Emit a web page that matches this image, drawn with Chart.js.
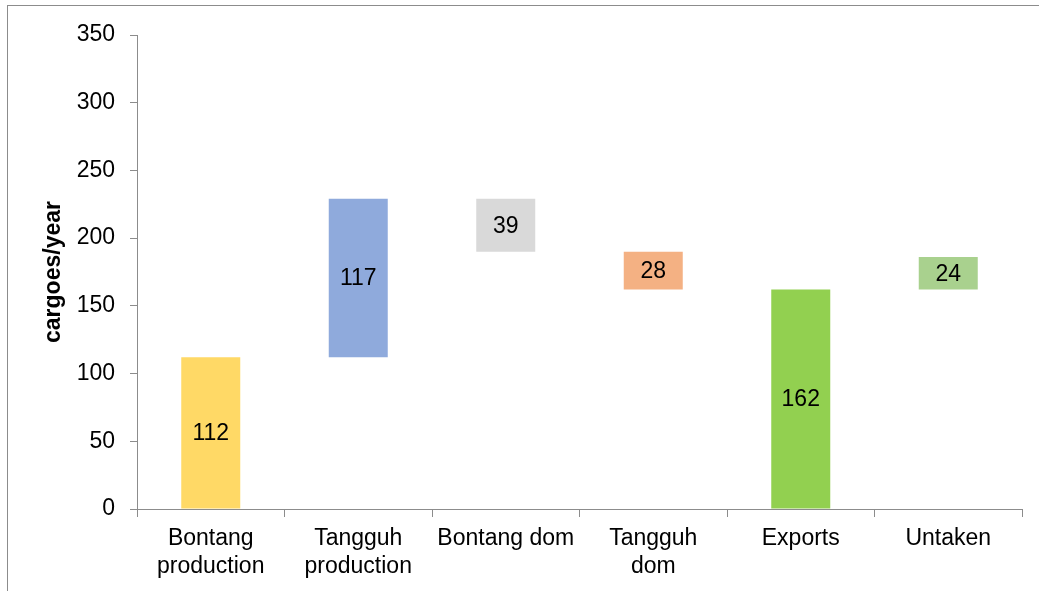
<!DOCTYPE html>
<html>
<head>
<meta charset="utf-8">
<script src="https://cdn.jsdelivr.net/npm/chart.js@4"></script>
<style>
  body { margin: 0; background: #fff; }
  #wrap { position: relative; width: 1039px; height: 591px; }
  #frame { position: absolute; left: 7px; top: 5px; right: 0; bottom: 0;
           border-top: 1px solid #8c8c8c; border-left: 1px solid #8c8c8c; }
  canvas { position: absolute; left: 0; top: 0; }
</style>
</head>
<body>
<div id="wrap">
  <div id="frame"></div>
  <canvas id="c" width="1039" height="591"></canvas>
</div>
<script>
// waterfall data
const categories = [
  ["Bontang", "production"],
  ["Tangguh", "production"],
  "Bontang dom",
  ["Tangguh", "dom"],
  "Exports",
  "Untaken"
];
const values = [112, 117, 39, 28, 162, 24];
const bases = [0, 112, 190, 162, 0, 162];
const barColors = ["#FFD966", "#8FAADC", "#D9D9D9", "#F4B183", "#92D050", "#A9D18E"];

const axisColor = "#8c8c8c";
const fontFamily = "'Liberation Sans', Arial, sans-serif";

// labels in the middle of each bar
const barLabels = {
  id: "barLabels",
  afterDatasetsDraw(chart) {
    const ctx = chart.ctx;
    const meta = chart.getDatasetMeta(0);
    ctx.save();
    ctx.fillStyle = "#000";
    ctx.font = "23px " + fontFamily;
    ctx.textAlign = "center";
    ctx.textBaseline = "middle";
    meta.data.forEach((bar, i) => {
      ctx.fillText(String(values[i]), bar.x, (bar.y + bar.base) / 2 + 1);
    });
    ctx.restore();
  }
};

const ctx = document.getElementById("c").getContext("2d");
new Chart(ctx, {
  type: "bar",
  data: {
    labels: categories,
    datasets: [{
      data: values.map((v, i) => [bases[i], bases[i] + v]),
      backgroundColor: barColors,
      borderWidth: 0,
      categoryPercentage: 1,
      barPercentage: 0.4
    }]
  },
  options: {
    responsive: false,
    animation: false,
    layout: { padding: { left: 36, right: 17, top: 35, bottom: 0 } },
    plugins: {
      legend: { display: false },
      tooltip: { enabled: false }
    },
    scales: {
      x: {
        afterFit: (s) => { s.height = 82; },
        grid: { offset: true, drawOnChartArea: false, tickLength: 8, color: axisColor },
        border: { color: axisColor },
        ticks: { color: "#000", padding: 8, maxRotation: 0, autoSkip: false,
                 font: { family: fontFamily, size: 23, lineHeight: 1.2 } }
      },
      y: {
        min: 0, max: 350,
        afterFit: (s) => { s.width = 137 - 36; },
        grid: { drawOnChartArea: false, tickLength: 7, color: axisColor },
        border: { color: axisColor },
        ticks: { stepSize: 50, color: "#000", padding: 15,
                 font: { family: fontFamily, size: 23 } },
        title: { display: true, text: "cargoes/year", color: "#000",
                 padding: { top: 4, bottom: 0 },
                 font: { family: fontFamily, size: 23, weight: "bold" } }
      }
    }
  },
  plugins: [barLabels]
});
</script>
</body>
</html>
